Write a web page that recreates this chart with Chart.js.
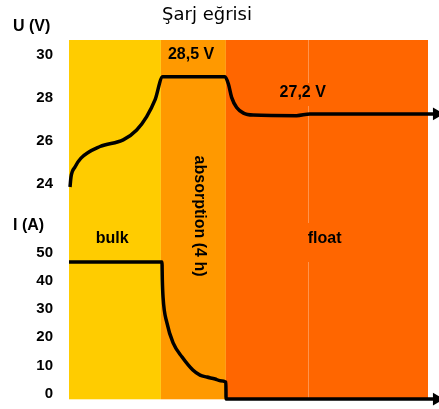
<!DOCTYPE html>
<html>
<head>
<meta charset="utf-8">
<script src="https://cdn.jsdelivr.net/npm/chart.js@4/dist/chart.umd.min.js"></script>
<style>
html,body{margin:0;padding:0;background:#fff;}
canvas{display:block;}
</style>
</head>
<body>
<canvas id="c" width="439" height="409"></canvas>
<script>
// ---- data ----
const chartTitle = 'Şarj eğrisi';
const phaseNames = ['bulk', 'absorption (4 h)', 'float'];
const phaseEdges = [0, 25.6, 43.7, 100];
const phaseColors = ['#FFCC00', '#FF9900', '#FF6600'];
const voltageLabels = ['28,5 V', '27,2 V'];
const voltTicks = [24, 26, 28, 30];
const currTicks = [0, 10, 20, 30, 40, 50];
const voltTime = [0.28, 0.56, 1.67, 3.34, 8.64, 15.1, 18.86, 21.64, 23.96, 26.1, 43.45, 44.4, 45.3, 46.7, 48.6, 51.3, 63.4, 67.1, 102.4];
const voltValues = [23.86, 24.33, 24.79, 25.2, 25.74, 26.05, 26.51, 27.13, 27.9, 28.98, 28.98, 28.64, 28.02, 27.55, 27.29, 27.2, 27.17, 27.25, 27.25];
const currTime = [0, 25.9, 26.0, 26.2, 27.3, 29.0, 31.5, 34.5, 36.5, 38.4, 40.7, 42.1, 43.7, 43.75, 102.4];
const currValues = [46.7, 46.7, 40.3, 34.2, 25.0, 18.0, 13.0, 8.4, 6.6, 5.9, 5.2, 4.6, 4.1, -1.9, -1.9];

const toXY = (xs, ys) => xs.map((x, i) => ({x: x, y: ys[i]}));

const FONT = "'Liberation Sans', Arial, sans-serif";

const decor = {
  id: 'decor',
  beforeDatasetsDraw(chart) {
    const {ctx, chartArea: a, scales} = chart;
    const x = scales.x;
    ctx.save();
    for (let i = 0; i < phaseNames.length; i++) {
      const x0 = x.getPixelForValue(phaseEdges[i]);
      const x1 = x.getPixelForValue(phaseEdges[i + 1]);
      ctx.fillStyle = phaseColors[i];
      ctx.fillRect(x0, a.top, x1 - x0, a.bottom - a.top);
    }
    // faint divider in float phase
    const xl = Math.round(x.getPixelForValue(66.6)) + 0.5;
    ctx.strokeStyle = 'rgba(255,255,255,0.3)';
    ctx.lineWidth = 1;
    ctx.beginPath();
    const segs = [[a.top, 83], [106, 223], [262, a.bottom]];
    segs.forEach(s => { ctx.moveTo(xl, s[0]); ctx.lineTo(xl, s[1]); });
    ctx.stroke();

    // labels inside the plot
    const yU = scales.yU, yI = scales.yI;
    ctx.fillStyle = '#000';
    ctx.font = 'bold 16px ' + FONT;
    ctx.textAlign = 'center';
    ctx.textBaseline = 'middle';
    ctx.fillText(voltageLabels[0], x.getPixelForValue(34.0), yU.getPixelForValue(30));
    ctx.fillText(voltageLabels[1], x.getPixelForValue(65.1), yU.getPixelForValue(28.24));
    ctx.fillText(phaseNames[0], x.getPixelForValue(12.0), yI.getPixelForValue(54.9));
    ctx.fillText(phaseNames[2], x.getPixelForValue(71.2), yI.getPixelForValue(54.9));
    ctx.save();
    ctx.translate(x.getPixelForValue(36.2), yI.getPixelForValue(63.0));
    ctx.rotate(Math.PI / 2);
    ctx.fillText(phaseNames[1], 0, 0);
    ctx.restore();
    ctx.restore();
  },
  afterDatasetsDraw(chart) {
    // arrow heads at the end of each line
    const {ctx} = chart;
    ctx.save();
    ctx.fillStyle = '#000';
    chart.data.datasets.forEach((ds, i) => {
      const pts = chart.getDatasetMeta(i).data;
      const p = pts[pts.length - 1];
      const r = 7.3;
      ctx.beginPath();
      ctx.moveTo(p.x + r, p.y);
      ctx.lineTo(p.x - r / 2, p.y - r * 0.87);
      ctx.lineTo(p.x - r / 2, p.y + r * 0.87);
      ctx.closePath();
      ctx.fill();
    });
    ctx.restore();
  },
  afterDraw(chart) {
    const {ctx} = chart;
    ctx.save();
    ctx.fillStyle = '#000';
    ctx.textBaseline = 'middle';
    ctx.textAlign = 'left';
    ctx.font = 'bold 16px ' + FONT;
    ctx.fillText('U (V)', 13, 26.7);
    ctx.fillText('I (A)', 13, 226);
    ctx.textAlign = 'center';
    ctx.textBaseline = 'alphabetic';
    ctx.font = "18px 'DejaVu Sans', sans-serif";
    ctx.fillStyle = '#000';
    ctx.fillText(chartTitle, 207, 20);
    ctx.restore();
  }
};

const yCommon = {
  type: 'linear',
  position: 'left',
  stack: 'main',
  grid: {display: false, drawTicks: false},
  border: {display: false},
  ticks: {color: '#000', font: {family: FONT, size: 15, weight: 'bold'}, padding: 16, autoSkip: false},
  afterFit(s) { s.width = 69; s.paddingTop = 0; s.paddingBottom = 0; }
};

new Chart(document.getElementById('c'), {
  type: 'line',
  data: {
    datasets: [
      {
        label: 'U', yAxisID: 'yU', data: toXY(voltTime, voltValues),
        borderColor: '#000', backgroundColor: '#000', borderWidth: 3.5,
        cubicInterpolationMode: 'monotone', clip: false, pointRadius: 0
      },
      {
        label: 'I', yAxisID: 'yI', data: toXY(currTime, currValues),
        borderColor: '#000', backgroundColor: '#000', borderWidth: 3.5,
        cubicInterpolationMode: 'monotone', clip: false, pointRadius: 0
      }
    ]
  },
  options: {
    responsive: false,
    animation: false,
    events: [],
    layout: {padding: {left: 0, right: 11, top: 40, bottom: 9.7}},
    plugins: {legend: {display: false}, title: {display: false}, tooltip: {enabled: false}},
    scales: {
      x: {type: 'linear', min: 0, max: 100, display: false},
      yU: Object.assign({}, yCommon, {
        min: 22.562, max: 30.682, stackWeight: 175, weight: 1,
        afterBuildTicks(s) { s.ticks = voltTicks.map(v => ({value: v})); }
      }),
      yI: Object.assign({}, yCommon, {
        min: -1.99, max: 63.37, stackWeight: 184.3, weight: 0,
        afterBuildTicks(s) { s.ticks = currTicks.map(v => ({value: v})); }
      })
    }
  },
  plugins: [decor]
});
</script>
</body>
</html>
